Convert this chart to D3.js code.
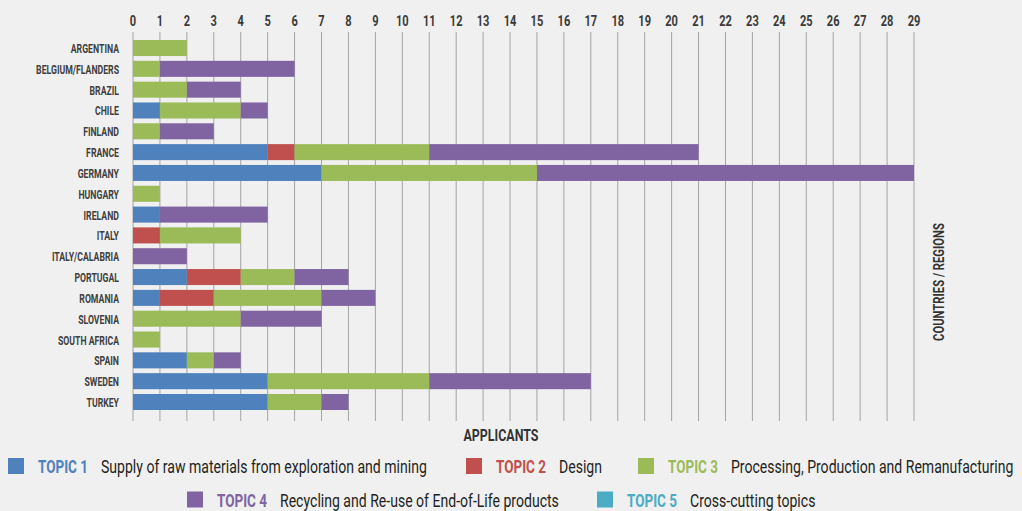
<!DOCTYPE html>
<html><head><meta charset="utf-8">
<script src="https://cdn.jsdelivr.net/npm/d3@7"></script>
<style>
body{margin:0;background:#f0f0f0;}
svg{display:block;}
text{font-family:Roboto,"Liberation Sans",sans-serif;}
</style></head><body>
<svg id="c" width="1022" height="511"></svg>
<script>
const countries = ["ARGENTINA","BELGIUM/FLANDERS","BRAZIL","CHILE","FINLAND","FRANCE","GERMANY","HUNGARY","IRELAND","ITALY","ITALY/CALABRIA","PORTUGAL","ROMANIA","SLOVENIA","SOUTH AFRICA","SPAIN","SWEDEN","TURKEY"];
const topic1 = [0,0,0,1,0,5,7,0,1,0,0,2,1,0,0,2,5,5];
const topic2 = [0,0,0,0,0,1,0,0,0,1,0,2,2,0,0,0,0,0];
const topic3 = [2,1,2,3,1,5,8,1,0,3,0,2,4,4,1,1,6,2];
const topic4 = [0,5,2,1,2,10,14,0,4,0,2,2,2,3,0,1,6,1];
const topic5 = [0,0,0,0,0,0,0,0,0,0,0,0,0,0,0,0,0,0];
const tickValues = d3.range(0,30);
const topicNames = ["TOPIC 1","TOPIC 2","TOPIC 3","TOPIC 4","TOPIC 5"];
const topicDescs = ["Supply of raw materials from exploration and mining","Design","Processing, Production and Remanufacturing","Recycling and Re-use of End-of-Life products","Cross-cutting topics"];
const colors = ["#4f81bd","#c0504d","#9bbb59","#8064a2","#4bacc6"];

const svg = d3.select("#c");
const x = d3.scaleLinear().domain([0,29]).range([133,914]);
const y = d3.scaleBand().domain(countries).range([37.6,412.4]).paddingInner(0.23).paddingOuter(0.115);

function factorFor(size, weight, str, target){
  const t = svg.append("text").attr("font-size",size).attr("font-weight",weight).text(str);
  const w = t.node().getComputedTextLength(); t.remove();
  return target / w;
}
// place a horizontally condensed text
function ctext(parent, px, py, k, rot){
  return parent.append("text").attr("x",0).attr("y",0)
    .attr("transform",`translate(${px},${py})${rot?` rotate(${rot})`:""} scale(${k},1)`);
}

// grid
svg.append("g").selectAll("line").data(tickValues).join("line")
  .attr("x1",d=>x(d)).attr("x2",d=>x(d)).attr("y1",32).attr("y2",421)
  .attr("stroke","#a3a3a3").attr("stroke-width",1);

// top tick labels
const kTick = factorFor(15.5,"bold","10",12.7);
const gt = svg.append("g");
tickValues.forEach(v=>{
  ctext(gt, x(v), 26, kTick).attr("text-anchor","middle")
    .attr("font-size",15.5).attr("font-weight","bold").attr("fill","#3a3a3a").text(v);
});

// stacked bars
const rows = countries.map((c,i)=>({country:c,t0:topic1[i],t1:topic2[i],t2:topic3[i],t3:topic4[i],t4:topic5[i]}));
const stack = d3.stack().keys(["t0","t1","t2","t3","t4"])(rows);
svg.append("g").selectAll("g").data(stack).join("g").attr("fill",(d,i)=>colors[i])
  .selectAll("rect").data(d=>d.filter(s=>s[1]>s[0])).join("rect")
  .attr("x",d=>x(d[0])).attr("width",d=>x(d[1])-x(d[0]))
  .attr("y",d=>y(d.data.country)).attr("height",y.bandwidth());

// category labels
const kCat = factorFor(13.5,"bold","BELGIUM/FLANDERS",83);
const gc = svg.append("g");
countries.forEach(c=>{
  ctext(gc, 119, y(c)+y.bandwidth()/2+5, kCat).attr("text-anchor","end")
    .attr("font-size",13.5).attr("font-weight","bold").attr("fill","#3f3f3f").text(c);
});

// axis titles
ctext(svg, 501, 441, factorFor(17,"bold","APPLICANTS",75)).attr("text-anchor","middle")
  .attr("font-size",17).attr("font-weight","bold").attr("fill","#333").text("APPLICANTS");
ctext(svg, 944, 282, factorFor(15.5,"bold","COUNTRIES / REGIONS",118), -90).attr("text-anchor","middle")
  .attr("font-size",15.5).attr("font-weight","bold").attr("fill","#333").text("COUNTRIES / REGIONS");

// legend
const legPos = [[8,473],[466,473],[638,473],[187,506.5],[597,506.5]];
const kLegB = factorFor(19,"bold","TOPIC 1",50);
const kLegR = factorFor(19,"normal",topicDescs[0],326);
const lg = svg.append("g");
topicNames.forEach((n,i)=>{
  const [lx,ly]=legPos[i];
  lg.append("rect").attr("x",lx).attr("y",ly-15).attr("width",16).attr("height",16).attr("fill",colors[i]);
  ctext(lg, lx+30, ly, kLegB).attr("font-size",19).attr("font-weight","bold").attr("fill",colors[i]).text(n);
  ctext(lg, lx+93, ly, kLegR).attr("font-size",19).attr("fill","#231f20").text(topicDescs[i]);
});
</script></body></html>
